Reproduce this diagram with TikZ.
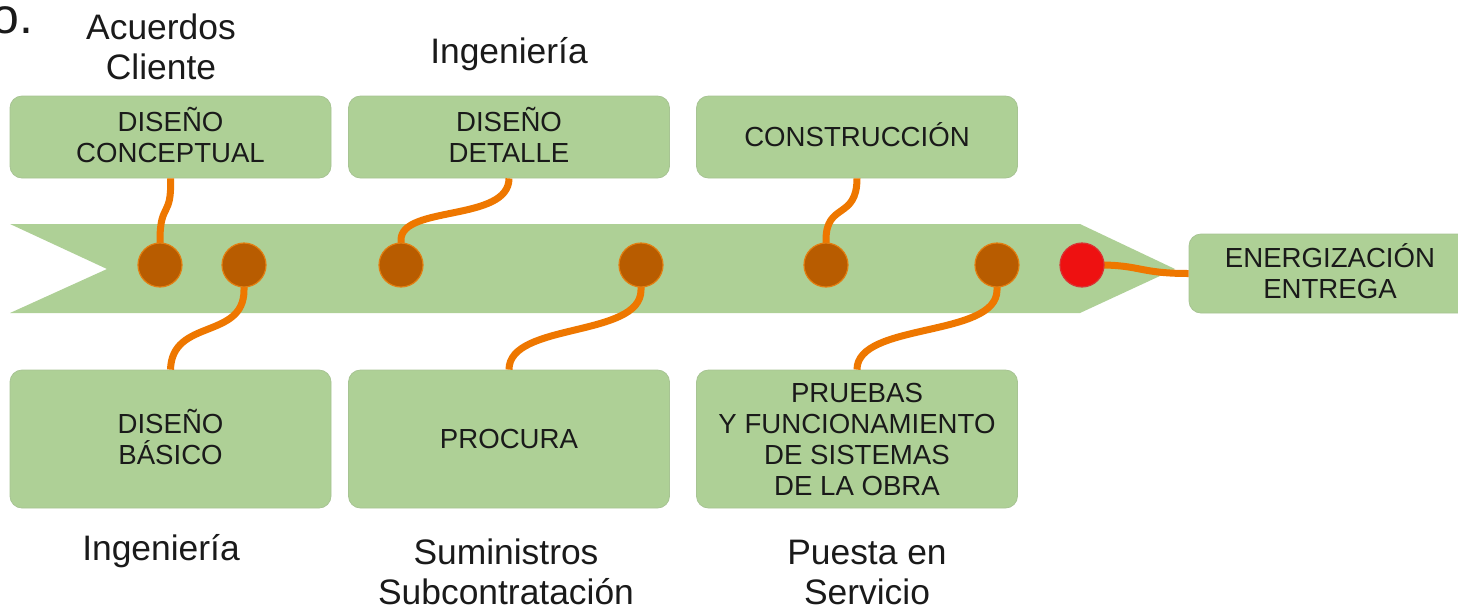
\documentclass[tikz,border=0pt]{standalone}
\usepackage{fontspec}
\setmainfont{Liberation Sans}
\begin{document}
\begin{tikzpicture}[x=0.5pt,y=-0.5pt,
  boxfill/.style={fill=boxgreen, draw=boxgreen!85!gray, line width=0.4pt, rounded corners=6pt, inner sep=0pt, align=center, text=txt, font=\fontsize{13.8}{15.5}\selectfont},
  topbox/.style={boxfill, minimum width=160.5pt, minimum height=41pt},
  botbox/.style={boxfill, minimum width=160.5pt, minimum height=69pt},
  dot/.style={circle, fill=dotfill, draw=dotedge, line width=0.6pt, minimum size=22pt, inner sep=0pt},
  reddot/.style={circle, fill=redfill, draw=rededge, line width=0.6pt, minimum size=22pt, inner sep=0pt},
  link/.style={draw=linkc, line width=3.5pt},
  lbl/.style={align=center, text=txt, inner sep=0pt, font=\fontsize{17.7}{20}\selectfont}]
\definecolor{boxgreen}{HTML}{AED096}
\definecolor{dotfill}{HTML}{B85C00}
\definecolor{dotedge}{HTML}{E27F12}
\definecolor{redfill}{HTML}{EE1111}
\definecolor{rededge}{HTML}{D83434}
\definecolor{linkc}{HTML}{EE7700}
\definecolor{txt}{HTML}{1A1A1A}
\useasboundingbox (0,0) rectangle (1458,607);

% band arrow
\fill[boxgreen] (10,224) -- (1080,224) -- (1175,269) -- (1080,313) -- (10,313) -- (107,269) -- cycle;

% boxes
\node[topbox] (t1) at (170.5,137) {DISE\smash{Ñ}O\\CONCEPTUAL};
\node[topbox] (t2) at (509,137) {DISE\smash{Ñ}O\\DETALLE};
\node[topbox] (t3) at (857,137) {CONSTRUCCI\smash{Ó}N};
\node[botbox] (b1) at (170.5,439) {DISE\smash{Ñ}O\\B\smash{Á}SICO};
\node[botbox] (b2) at (509,439) {PROCURA};
\node[botbox] (b3) at (857,439) {PRUEBAS\\Y FUNCIONAMIENTO\\DE SISTEMAS\\DE LA OBRA};
\node[boxfill, minimum width=141pt, minimum height=39.5pt] (e) at (1330,273.5) {ENERGIZACI\smash{Ó}N\\ENTREGA};

% circle positions (circles drawn after connectors)
\coordinate (p1) at (160,265);
\coordinate (p2) at (244,265);
\coordinate (p3) at (401,265);
\coordinate (p4) at (641,265);
\coordinate (p5) at (826,265);
\coordinate (p6) at (997,265);
\coordinate (p7) at (1082,265);

% connectors
\draw[link] (p1) -- (160,240) .. controls (160,202) and (172,218) .. (t1.south);
\draw[link] (p2) -- (244,290) .. controls (244,340) and (172,318) .. (b1.north);
\draw[link] (p3) -- (401,240) .. controls (401,205) and (509,222) .. (t2.south);
\draw[link] (p4) -- (641,290) .. controls (641,338) and (509,322) .. (b2.north);
\draw[link] (p5) -- (826,240) .. controls (826,202) and (857,220) .. (t3.south);
\draw[link] (p6) -- (997,290) .. controls (997,338) and (857,322) .. (b3.north);
\draw[link] (p7) -- (1100,265) .. controls (1140,265) and (1140,273.5) .. (e.west);

\node[dot] (c1) at (p1) {};
\node[dot] (c2) at (p2) {};
\node[dot] (c3) at (p3) {};
\node[dot] (c4) at (p4) {};
\node[dot] (c5) at (p5) {};
\node[dot] (c6) at (p6) {};
\node[reddot] (c7) at (p7) {};

% outer labels
\node[lbl] (l0) at (161,47) {Acuerdos\\Cliente};
\node[lbl] (l1) at (509,54) {Ingenier\smash{í}a};
\node[lbl] (l2) at (161,551) {Ingenier\smash{í}a};
\node[lbl] (l3) at (506,572) {Suministros\\Subcontrataci\smash{ó}n};
\node[lbl] (l4) at (867,572) {Puesta en\\Servicio};
\node[anchor=base east, inner sep=0pt, text=txt, font=\fontsize{25}{28}\selectfont] (oo) at (34,33) {o.};
\end{tikzpicture}
\end{document}
